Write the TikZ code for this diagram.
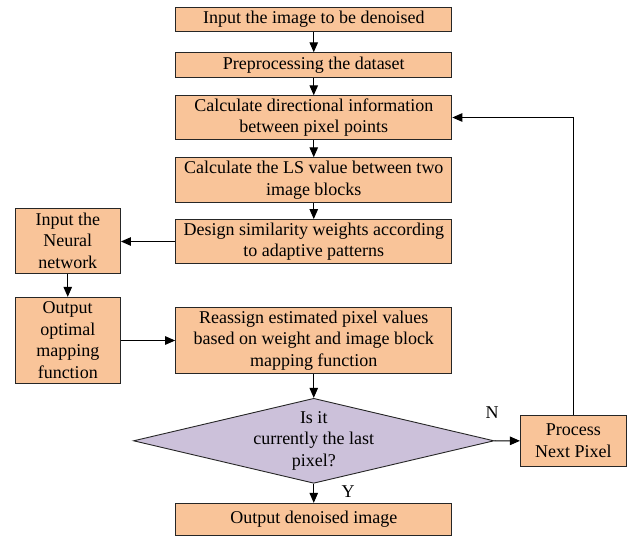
\documentclass[tikz,border=0pt]{standalone}
\usepackage{fontspec}
\setmainfont{Liberation Serif}
\usetikzlibrary{shapes.geometric,arrows.meta}
\definecolor{boxfill}{HTML}{F9C499}
\definecolor{decfill}{HTML}{CCC1DA}
\begin{document}
\begin{tikzpicture}[x=1pt,y=-1pt,
  txt/.style={font=\fontsize{18}{21.5}\selectfont},
  proc/.style={txt, draw=black!85, fill=boxfill, line width=0.9pt, inner sep=0pt, align=center},
  mainbox/.style={proc, minimum width=276.3pt},
  sidebox/.style={proc, minimum width=105.5pt},
  decision/.style={diamond, draw=black!85, fill=decfill, line width=0.9pt, inner sep=0pt,
                   minimum width=360.5pt, minimum height=85pt},
  flow/.style={draw=black, line width=1pt, -{Triangle[length=10pt,width=8.5pt]}}]
\useasboundingbox (0,0) rectangle (627,536);

% main column
\node[mainbox, minimum height=24.4pt] (input) at (313.75,19.5) {Input the image to be denoised};
\node[mainbox, minimum height=24.6pt] (prep) at (313.75,65) {Preprocessing the dataset};
\node[mainbox, minimum height=43.6pt] (dir) at (313.75,117.5) {Calculate directional information\\between pixel points};
\node[mainbox, minimum height=44.6pt] (ls) at (313.75,180) {Calculate the LS value between two\\image blocks};
\node[mainbox, minimum height=44pt] (weights) at (313.75,241.5) {Design similarity weights according\\to adaptive patterns};
\node[mainbox, minimum height=65.6pt] (reassign) at (313.75,340.5) {Reassign estimated pixel values\\based on weight and image block\\mapping function};
\node[decision] (dec) at (313.75,440.8) {};
\node[txt, align=center, inner sep=0pt] (dectext) at (dec.center) {Is it\\currently the last\\pixel?};
\node[mainbox, minimum height=32.2pt] (output) at (313.75,519.4) {Output denoised image};

% side boxes
\node[sidebox, minimum height=65pt] (nn) at (67.75,240.8) {Input the\\Neural\\network};
\node[sidebox, minimum height=86pt] (map) at (67.75,340.3) {Output\\optimal\\mapping\\function};
\node[sidebox, minimum width=105.9pt, minimum height=51.7pt] (next) at (573.35,440.85) {Process\\Next Pixel};

% connectors
\draw[flow] (input) -- (prep);
\draw[flow] (prep) -- (dir);
\draw[flow] (dir) -- (ls);
\draw[flow] (ls) -- (weights);
\draw[flow] (weights.west) -- (nn.east |- weights.west);
\draw[flow] (nn) -- (map);
\draw[flow] (map.east |- reassign.west) -- (reassign.west);
\draw[flow] (reassign) -- (dec.north);
\draw[flow] (dec.south) -- (output);
\draw[flow] (dec.east) -- (next.west);
\draw[flow] (next.north) |- (dir.east);

% branch labels
\node[txt] (lblN) at (492,413) {N};
\node[txt] (lblY) at (348,491.7) {Y};
\end{tikzpicture}
\end{document}
